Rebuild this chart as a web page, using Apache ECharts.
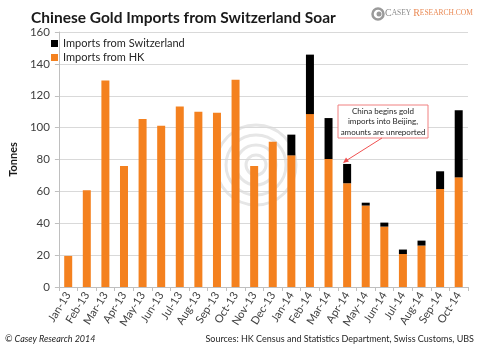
<!DOCTYPE html>
<html><head><meta charset="utf-8">
<script src="https://cdn.jsdelivr.net/npm/echarts@6/dist/echarts.min.js"></script>
<style>html,body{margin:0;padding:0;background:#fff}#c{width:480px;height:348px}</style>
</head><body><div id="c"></div>
<script>
const categories = ['Jan-13','Feb-13','Mar-13','Apr-13','May-13','Jun-13','Jul-13','Aug-13','Sep-13','Oct-13','Nov-13','Dec-13','Jan-14','Feb-14','Mar-14','Apr-14','May-14','Jun-14','Jul-14','Aug-14','Sep-14','Oct-14'];
const hkImports = [19.5,60.7,129.5,76,105.4,101.2,113.2,110,109.4,130.1,75.9,91.2,82.6,108.5,80.3,65.1,51.1,37.9,20.7,26,61.5,68.8];
const swissImports = [0,0,0,0,0,0,0,0,0,0,0,0,13,37.3,25.7,12.1,1.8,2.5,2.8,3.1,11.1,42.1];
const yTicks = {min:0, max:160, interval:20};

const chart = echarts.init(document.getElementById('c'), null, {renderer:'canvas'});
const font = 'Lato, "Open Sans", sans-serif';
const rings = [40,30,20,10].map(r => ({type:'circle', silent:true, zlevel:-1, shape:{cx:256,cy:165,r:r}, style:{fill:'none', stroke:'#e6e6e6', lineWidth:3}}));
chart.setOption({
  animation:false,
  backgroundColor:'transparent',
  textStyle:{fontFamily:font},
  title:{
    text:'Chinese Gold Imports from Switzerland Soar',
    left:26, top:5,
    textStyle:{fontFamily:font, fontWeight:'bold', fontSize:15.5, color:'#1a1a1a'}
  },
  legend:{
    orient:'vertical', left:46, top:33, itemWidth:7, itemHeight:7, itemGap:3,
    icon:'rect',
    textStyle:{fontSize:11, color:'#262626', fontFamily:font},
    data:['Imports from Switzerland','Imports from HK']
  },
  grid:{left:38, right:12, top:32, bottom:61, containLabel:false},
  xAxis:{
    type:'category', data:categories,
    axisLine:{lineStyle:{color:'#bfbfbf'}},
    axisTick:{show:true, alignWithLabel:false, length:4, lineStyle:{color:'#bfbfbf'}},
    axisLabel:{rotate:58, fontSize:11, color:'#404040', margin:6, interval:0}
  },
  yAxis:{
    type:'value', min:yTicks.min, max:yTicks.max, interval:yTicks.interval,
    name:'Tonnes', nameLocation:'middle', nameGap:24, nameRotate:90,
    nameTextStyle:{fontWeight:'bold', fontSize:11, color:'#1a1a1a'},
    axisLine:{show:true, lineStyle:{color:'#bfbfbf'}},
    axisTick:{show:true, length:4, lineStyle:{color:'#bfbfbf'}},
    axisLabel:{fontSize:11.5, color:'#404040', margin:9},
    splitLine:{lineStyle:{color:'#d9d9d9'}}
  },
  graphic:[
    ...rings,
    {type:'rect', shape:{x:338,y:105,width:90,height:33}, style:{fill:'#fff', stroke:'#f08080', lineWidth:1}, z:100},
    {type:'text', x:383, y:121.5, z:101, style:{text:'China begins gold\nimports into Beijing,\namounts are unreported', align:'center', verticalAlign:'middle', fontSize:8, lineHeight:10.5, fill:'#262626', fontFamily:font}},
    {type:'line', shape:{x1:382,y1:138,x2:344,y2:162}, style:{stroke:'#f05050', lineWidth:1}, z:101},
    {type:'polygon', shape:{points:[[343,163],[346,157.5],[349,161.5]]}, style:{fill:'#f05050'}, z:101},
    {type:'circle', shape:{cx:378,cy:14,r:5.5}, style:{fill:'none', stroke:'#9a9a9a', lineWidth:2.5}},
    {type:'circle', shape:{cx:379,cy:14,r:2.5}, style:{fill:'#9a9a9a'}},
    {type:'text', x:385, y:8, style:{rich:{g:{fontSize:10,fill:'#8a8a8a',fontFamily:'"Liberation Serif", serif'},gs:{fontSize:7.5,fill:'#8a8a8a',fontFamily:'"Liberation Serif", serif'},o:{fontSize:10,fill:'#ea8a55',fontFamily:'"Liberation Serif", serif'},os:{fontSize:7.5,fill:'#ea8a55',fontFamily:'"Liberation Serif", serif'}}, text:'{g|C}{gs|ASEY }{o|R}{os|ESEARCH.COM}'}},
    {type:'text', left:5, top:335, style:{text:'© Casey Research 2014', fontSize:9, fontStyle:'italic', fill:'#262626', fontFamily:font}},
    {type:'text', right:6, top:335, style:{text:'Sources: HK Census and Statistics Department, Swiss Customs, UBS', fontSize:9, fill:'#262626', fontFamily:font}}
  ],
  series:[
    {name:'Imports from HK', type:'bar', stack:'t', data:hkImports, barWidth:8, itemStyle:{color:'#f4811f'}},
    {name:'Imports from Switzerland', type:'bar', stack:'t', data:swissImports, barWidth:8, itemStyle:{color:'#000000'}}
  ]
});
</script></body></html>
